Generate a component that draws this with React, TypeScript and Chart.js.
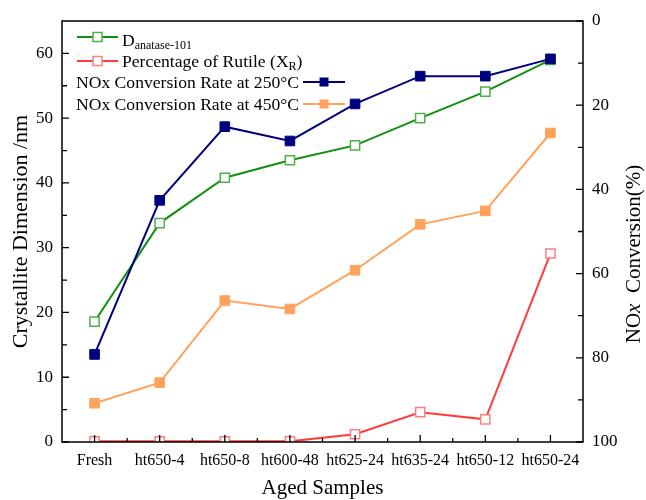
import React, { useEffect, useRef } from 'react';
import { Chart, registerables } from 'chart.js';

Chart.register(...registerables);

// Aged catalyst samples along the x axis
const samples = ['Fresh', 'ht650-4', 'ht650-8', 'ht600-48', 'ht625-24', 'ht635-24', 'ht650-12', 'ht650-24'];

// Left axis (nm / %)
const anataseSize = [18.6, 33.8, 40.8, 43.5, 45.8, 50.0, 54.1, 59.0];
const rutilePct = [0.1, 0.1, 0.1, 0.1, 1.2, 4.6, 3.5, 29.1];

// Right axis (NOx conversion, %, reversed)
const nox250 = [79.2, 42.6, 25.1, 28.5, 19.7, 13.1, 13.1, 9.0];
const nox450 = [90.8, 85.9, 66.4, 68.4, 59.2, 48.3, 45.1, 26.6];

// Axis tick values
const leftMajor = [0, 10, 20, 30, 40, 50, 60];
const leftMinor = [5, 15, 25, 35, 45, 55];
const rightMajor = [0, 20, 40, 60, 80, 100];
const rightMinor = [10, 30, 50, 70, 90];

const SERIF = '"Liberation Serif", "Times New Roman", serif';

const GREEN = '#128f12';
const GREEN_MARK = '#4cb04c';
const RED = '#ff3c3c';
const RED_MARK = '#ff7f7f';
const NAVY = '#00007f';
const ORANGE = '#ffa35c';

function drawSample(
  ctx: CanvasRenderingContext2D,
  x0: number,
  x1: number,
  y: number,
  color: string,
  markColor: string,
  filled: boolean
) {
  ctx.save();
  ctx.strokeStyle = color;
  ctx.lineWidth = 2;
  ctx.beginPath();
  ctx.moveTo(x0, y);
  ctx.lineTo(x1, y);
  ctx.stroke();
  const cx = (x0 + x1) / 2;
  const s = 9;
  if (filled) {
    ctx.fillStyle = color;
    ctx.fillRect(cx - s / 2, y - s / 2, s, s);
  } else {
    ctx.fillStyle = '#fff';
    ctx.fillRect(cx - s / 2, y - s / 2, s, s);
    ctx.strokeStyle = markColor;
    ctx.lineWidth = 1.5;
    ctx.strokeRect(cx - s / 2, y - s / 2, s, s);
  }
  ctx.restore();
}

const decorPlugin = {
  id: 'decor',
  afterDatasetsDraw(chart: any) {
    const { ctx, chartArea } = chart;
    const { left, right, top, bottom } = chartArea;
    const x = chart.scales.x;
    const y = chart.scales.y;
    const y1 = chart.scales.y1;

    ctx.save();
    ctx.strokeStyle = '#000';
    ctx.lineWidth = 1.5;
    ctx.strokeRect(left, top, right - left, bottom - top);

    // inward tick marks
    ctx.lineWidth = 1.3;
    ctx.beginPath();
    const n = samples.length;
    for (let i = 0; i < n; i++) {
      const px = x.getPixelForValue(i);
      ctx.moveTo(px, bottom);
      ctx.lineTo(px, bottom - 7);
      if (i < n - 1) {
        const mx = (px + x.getPixelForValue(i + 1)) / 2;
        ctx.moveTo(mx, bottom);
        ctx.lineTo(mx, bottom - 4);
      }
    }
    leftMajor.forEach((v) => {
      const py = y.getPixelForValue(v);
      ctx.moveTo(left, py);
      ctx.lineTo(left + 7, py);
    });
    leftMinor.forEach((v) => {
      const py = y.getPixelForValue(v);
      ctx.moveTo(left, py);
      ctx.lineTo(left + 5, py);
    });
    rightMajor.forEach((v) => {
      const py = y1.getPixelForValue(v);
      ctx.moveTo(right, py);
      ctx.lineTo(right - 7, py);
    });
    rightMinor.forEach((v) => {
      const py = y1.getPixelForValue(v);
      ctx.moveTo(right, py);
      ctx.lineTo(right - 5, py);
    });
    ctx.stroke();

    // axis titles
    ctx.fillStyle = '#000';
    ctx.textAlign = 'center';
    ctx.textBaseline = 'middle';
    ctx.font = `22px ${SERIF}`;
    ctx.save();
    ctx.translate(21, (top + bottom) / 2);
    ctx.rotate(-Math.PI / 2);
    ctx.fillText('Crystallite Dimension /nm', 0, 0);
    ctx.restore();

    ctx.font = `21px ${SERIF}`;
    ctx.fillText('Aged Samples', (left + right) / 2, 488);

    // right title: NOx with italic x
    ctx.save();
    ctx.translate(634, 254);
    ctx.rotate(-Math.PI / 2);
    ctx.textAlign = 'left';
    const normal = `21px ${SERIF}`;
    const italic = `italic 21px ${SERIF}`;
    const parts: [string, string][] = [
      ['NO', normal],
      ['x', italic],
      ['  Conversion(%)', normal],
    ];
    let total = 0;
    parts.forEach(([t, f]) => {
      ctx.font = f;
      total += ctx.measureText(t).width;
    });
    let cx = -total / 2;
    parts.forEach(([t, f]) => {
      ctx.font = f;
      ctx.fillText(t, cx, 0);
      cx += ctx.measureText(t).width;
    });
    ctx.restore();

    // legend
    ctx.textAlign = 'left';
    ctx.textBaseline = 'alphabetic';
    const big = `17.6px ${SERIF}`;
    const small = `12px ${SERIF}`;

    drawSample(ctx, 77, 118, 37, GREEN, GREEN_MARK, false);
    ctx.font = big;
    ctx.fillText('D', 122, 45.5);
    const dW = ctx.measureText('D').width;
    ctx.font = small;
    ctx.fillText('anatase-101', 122 + dW, 49);

    drawSample(ctx, 77, 118, 61, RED, RED_MARK, false);
    ctx.font = big;
    const pText = 'Percentage of Rutile (X';
    ctx.fillText(pText, 122, 67);
    let px = 122 + ctx.measureText(pText).width;
    ctx.font = small;
    ctx.fillText('R', px, 70);
    px += ctx.measureText('R').width;
    ctx.font = big;
    ctx.fillText(')', px, 67);

    ctx.font = big;
    const t3 = 'NOx Conversion Rate at 250°C';
    ctx.fillText(t3, 76, 88);
    const w3 = ctx.measureText(t3).width;
    drawSample(ctx, 76 + w3 + 4, 76 + w3 + 46, 82, NAVY, NAVY, true);

    const t4 = 'NOx Conversion Rate at 450°C';
    ctx.fillText(t4, 76, 110);
    const w4 = ctx.measureText(t4).width;
    drawSample(ctx, 76 + w4 + 4, 76 + w4 + 46, 104, ORANGE, ORANGE, true);

    ctx.restore();
  },
};

export default function App() {
  const canvasRef = useRef<HTMLCanvasElement | null>(null);

  useEffect(() => {
    if (!canvasRef.current) return;
    const openPoint = (line: string, mark: string) => ({
      borderColor: line,
      borderWidth: 2,
      pointStyle: 'rect' as const,
      pointRadius: 6.5,
      pointBackgroundColor: '#ffffff',
      pointBorderColor: mark,
      pointBorderWidth: 1.5,
    });
    const filledPoint = (c: string) => ({
      borderColor: c,
      borderWidth: 2,
      pointStyle: 'rect' as const,
      pointRadius: 6.8,
      pointBackgroundColor: c,
      pointBorderColor: c,
      pointBorderWidth: 1,
    });

    const chart = new Chart(canvasRef.current, {
      type: 'line',
      data: {
        labels: samples,
        datasets: [
          { label: 'NOx Conversion Rate at 250°C', data: nox250, yAxisID: 'y1', order: 0, ...filledPoint(NAVY) },
          { label: 'D anatase-101', data: anataseSize, yAxisID: 'y', order: 1, ...openPoint(GREEN, GREEN_MARK) },
          { label: 'NOx Conversion Rate at 450°C', data: nox450, yAxisID: 'y1', order: 2, ...filledPoint(ORANGE) },
          { label: 'Percentage of Rutile (XR)', data: rutilePct, yAxisID: 'y', order: 3, ...openPoint(RED, RED_MARK) },
        ],
      },
      options: {
        responsive: false,
        devicePixelRatio: 1,
        animation: false,
        events: [],
        layout: { padding: { top: 21, left: 0, right: 0, bottom: 0 } },
        plugins: {
          legend: { display: false },
          tooltip: { enabled: false },
          title: { display: false },
        },
        scales: {
          x: {
            type: 'category',
            offset: true,
            grid: { display: false, drawTicks: false },
            border: { display: false },
            ticks: {
              color: '#000',
              font: { family: SERIF, size: 16 },
              padding: 9,
              maxRotation: 0,
              autoSkip: false,
            },
            afterFit: (s: any) => {
              s.height = 58;
            },
          },
          y: {
            position: 'left',
            min: 0,
            max: 65,
            grid: { display: false, drawTicks: false },
            border: { display: false },
            ticks: {
              stepSize: 10,
              includeBounds: false,
              color: '#000',
              font: { family: SERIF, size: 17 },
              padding: 9,
            },
            afterFit: (s: any) => {
              s.width = 62;
            },
          },
          y1: {
            position: 'right',
            reverse: true,
            min: 0,
            max: 100,
            grid: { display: false, drawTicks: false },
            border: { display: false },
            ticks: {
              stepSize: 20,
              color: '#000',
              font: { family: SERIF, size: 17 },
              padding: 9,
            },
            afterFit: (s: any) => {
              s.width = 63;
            },
          },
        },
      },
      plugins: [decorPlugin],
    });
    return () => chart.destroy();
  }, []);

  return (
    <div style={{ position: 'fixed', left: 0, top: 0, width: 646, height: 500, background: '#fff' }}>
      <canvas ref={canvasRef} width={646} height={500} />
    </div>
  );
}
